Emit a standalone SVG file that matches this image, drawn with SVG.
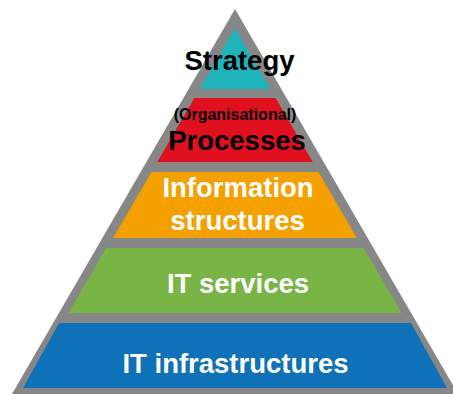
<svg xmlns="http://www.w3.org/2000/svg" width="453" height="394" viewBox="0 0 453 394">
  <style>
    .lbl { font-family: "Liberation Sans", Arial, sans-serif; font-weight: bold; text-anchor: middle; }
    .big { font-size: 27.5px; }
    .small { font-size: 16px; }
    .dark { fill: #000000; }
    .light { fill: #ffffff; }
  </style>
  <rect width="453" height="394" fill="#ffffff"/>
  <!-- grey pyramid frame -->
  <polygon id="frame" points="235,9 12,394 458,394" fill="#878787"/>

  <g id="strategy">
    <polygon points="235,28 199.6,89 270.4,89" fill="#1fb3bb"/>
    <text class="lbl big dark" x="239.5" y="70">Strategy</text>
  </g>

  <g id="processes">
    <polygon points="194.4,98 275.6,98 312.7,162 157.3,162" fill="#e0101e"/>
    <text class="lbl small dark" x="235" y="120">(Organisational)</text>
    <text class="lbl big dark" x="237" y="150">Processes</text>
  </g>

  <g id="information-structures">
    <polygon points="151.5,172 318.5,172 356.8,238 113.2,238" fill="#f4a100"/>
    <text class="lbl big light" x="238" y="197">Information</text>
    <text class="lbl big light" x="237.5" y="230">structures</text>
  </g>

  <g id="it-services">
    <polygon points="106.2,248 363.8,248 401.5,313 68.5,313" fill="#78b546"/>
    <text class="lbl big light" x="238" y="293">IT services</text>
  </g>

  <g id="it-infrastructures">
    <polygon points="59,323 411,323 447,388 23,388" fill="#0f71b7"/>
    <text class="lbl big light" x="235.5" y="373">IT infrastructures</text>
  </g>

  <g id="connectors"></g>
</svg>
